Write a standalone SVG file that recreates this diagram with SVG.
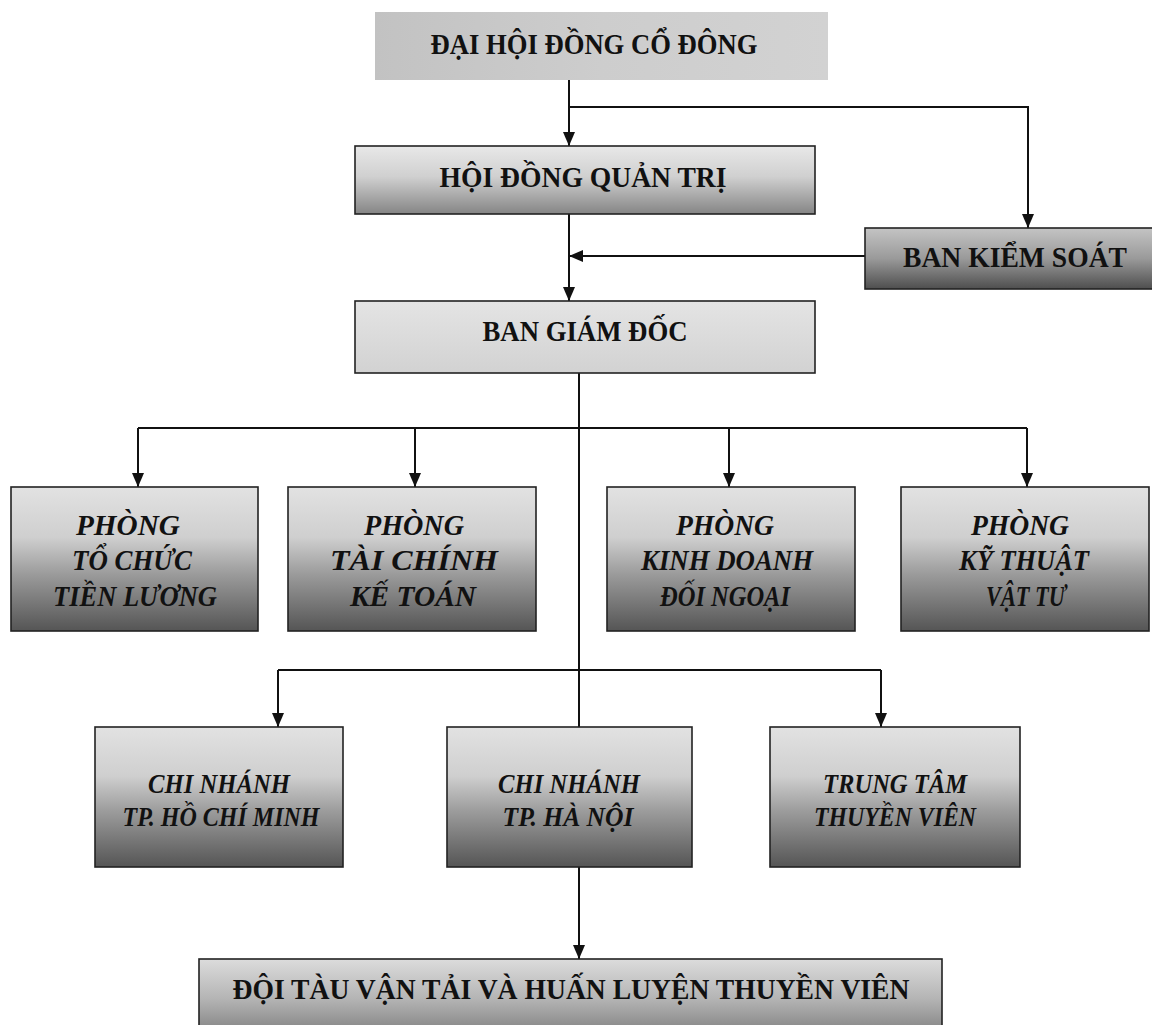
<svg xmlns="http://www.w3.org/2000/svg" width="1152" height="1025" viewBox="0 0 1152 1025">
<style>
.bx{stroke:#222;stroke-width:1.6}
.hd{font-family:"Liberation Serif","DejaVu Serif",serif;font-weight:bold;font-size:30px;fill:#111;text-anchor:middle}
.it{font-family:"Liberation Serif","DejaVu Serif",serif;font-weight:bold;font-style:italic;font-size:30px;fill:#111;text-anchor:middle}
.it2{font-family:"Liberation Serif","DejaVu Serif",serif;font-weight:bold;font-style:italic;font-size:28px;fill:#111;text-anchor:middle}
.ln{stroke:#111;stroke-width:2;fill:none}
</style>
<defs>
<linearGradient id="gTop" x1="0" y1="0" x2="1" y2="0">
<stop offset="0" stop-color="#c2c2c2"/><stop offset="0.5" stop-color="#cdcdcd"/><stop offset="1" stop-color="#d2d2d2"/>
</linearGradient>
<linearGradient id="gHd" x1="0" y1="0" x2="0" y2="1">
<stop offset="0" stop-color="#e8e8e8"/><stop offset="0.45" stop-color="#d0d0d0"/><stop offset="1" stop-color="#858585"/>
</linearGradient>
<linearGradient id="gBks" x1="0" y1="0" x2="0" y2="1">
<stop offset="0" stop-color="#c4c4c4"/><stop offset="0.5" stop-color="#9a9a9a"/><stop offset="1" stop-color="#4e4e4e"/>
</linearGradient>
<linearGradient id="gBgd" x1="0" y1="0" x2="0" y2="1">
<stop offset="0" stop-color="#e4e4e4"/><stop offset="1" stop-color="#d2d2d2"/>
</linearGradient>
<linearGradient id="gRow" x1="0" y1="0" x2="0" y2="1">
<stop offset="0" stop-color="#e2e2e2"/><stop offset="0.35" stop-color="#cfcfcf"/><stop offset="0.6" stop-color="#9c9c9c"/><stop offset="1" stop-color="#555555"/>
</linearGradient>
<linearGradient id="gBot" x1="0" y1="0" x2="0" y2="1">
<stop offset="0" stop-color="#dcdcdc"/><stop offset="0.5" stop-color="#b4b4b4"/><stop offset="1" stop-color="#7a7a7a"/>
</linearGradient>
<marker id="ar" markerUnits="userSpaceOnUse" markerWidth="14" markerHeight="12" refX="14" refY="6" orient="auto">
<path d="M0,0 L14,6 L0,12 z" fill="#111"/>
</marker>
</defs>
<rect width="1152" height="1025" fill="#ffffff"/>

<g id="connectors">
<line class="ln" x1="569" y1="80" x2="569" y2="146" marker-end="url(#ar)"/>
<polyline class="ln" points="569,107 1028,107 1028,228" marker-end="url(#ar)"/>
<line class="ln" x1="569" y1="214" x2="569" y2="301" marker-end="url(#ar)"/>
<line class="ln" x1="865" y1="256" x2="569" y2="256" marker-end="url(#ar)" stroke-width="3"/>
<line class="ln" x1="579" y1="373" x2="579" y2="959" marker-end="url(#ar)"/>
<line class="ln" x1="138" y1="428" x2="1027" y2="428"/>
<line class="ln" x1="138" y1="428" x2="138" y2="487" marker-end="url(#ar)"/>
<line class="ln" x1="415" y1="428" x2="415" y2="487" marker-end="url(#ar)"/>
<line class="ln" x1="729" y1="428" x2="729" y2="487" marker-end="url(#ar)"/>
<line class="ln" x1="1027" y1="428" x2="1027" y2="487" marker-end="url(#ar)"/>
<line class="ln" x1="278" y1="670" x2="881" y2="670"/>
<line class="ln" x1="278" y1="670" x2="278" y2="727" marker-end="url(#ar)"/>
<line class="ln" x1="881" y1="670" x2="881" y2="727" marker-end="url(#ar)"/>
</g>

<g id="dai-hoi-dong-co-dong">
<rect x="375" y="12" width="453" height="68" fill="url(#gTop)"/>
<text class="hd" x="594" y="54" textLength="327" lengthAdjust="spacingAndGlyphs">ĐẠI HỘI ĐỒNG CỔ ĐÔNG</text>
</g>
<g id="hoi-dong-quan-tri">
<rect class="bx" x="355" y="146" width="460" height="68" fill="url(#gHd)"/>
<text class="hd" x="583" y="187" textLength="287" lengthAdjust="spacingAndGlyphs">HỘI ĐỒNG QUẢN TRỊ</text>
</g>
<g id="ban-kiem-soat">
<rect class="bx" x="865" y="228" width="300" height="61" fill="url(#gBks)"/>
<text class="hd" x="1015" y="267" textLength="224" lengthAdjust="spacingAndGlyphs">BAN KIỂM SOÁT</text>
</g>
<g id="ban-giam-doc">
<rect class="bx" x="355" y="301" width="460" height="72" fill="url(#gBgd)"/>
<text class="hd" x="585" y="341" textLength="205" lengthAdjust="spacingAndGlyphs">BAN GIÁM ĐỐC</text>
</g>

<g id="phong-to-chuc-tien-luong">
<rect class="bx" x="11" y="487" width="247" height="144" fill="url(#gRow)"/>
<text class="it" x="128" y="535" textLength="104" lengthAdjust="spacingAndGlyphs">PHÒNG</text>
<text class="it" x="132" y="570" textLength="120" lengthAdjust="spacingAndGlyphs">TỔ CHỨC</text>
<text class="it" x="135" y="606" textLength="164" lengthAdjust="spacingAndGlyphs">TIỀN LƯƠNG</text>
</g>
<g id="phong-tai-chinh-ke-toan">
<rect class="bx" x="288" y="487" width="248" height="144" fill="url(#gRow)"/>
<text class="it" x="414" y="535" textLength="100" lengthAdjust="spacingAndGlyphs">PHÒNG</text>
<text class="it" x="414" y="570" textLength="168" lengthAdjust="spacingAndGlyphs">TÀI CHÍNH</text>
<text class="it" x="413" y="606" textLength="126" lengthAdjust="spacingAndGlyphs">KẾ TOÁN</text>
</g>
<g id="phong-kinh-doanh-doi-ngoai">
<rect class="bx" x="607" y="487" width="248" height="144" fill="url(#gRow)"/>
<text class="it" x="725" y="535" textLength="98" lengthAdjust="spacingAndGlyphs">PHÒNG</text>
<text class="it" x="727" y="570" textLength="172" lengthAdjust="spacingAndGlyphs">KINH DOANH</text>
<text class="it" x="725" y="606" textLength="130" lengthAdjust="spacingAndGlyphs">ĐỐI NGOẠI</text>
</g>
<g id="phong-ky-thuat-vat-tu">
<rect class="bx" x="901" y="487" width="248" height="144" fill="url(#gRow)"/>
<text class="it" x="1020" y="535" textLength="98" lengthAdjust="spacingAndGlyphs">PHÒNG</text>
<text class="it" x="1024" y="570" textLength="130" lengthAdjust="spacingAndGlyphs">KỸ THUẬT</text>
<text class="it" x="1026" y="606" textLength="80" lengthAdjust="spacingAndGlyphs">VẬT TƯ</text>
</g>

<g id="chi-nhanh-ho-chi-minh">
<rect class="bx" x="95" y="727" width="248" height="140" fill="url(#gRow)"/>
<text class="it2" x="219" y="793" textLength="142" lengthAdjust="spacingAndGlyphs">CHI NHÁNH</text>
<text class="it2" x="221" y="826" textLength="197" lengthAdjust="spacingAndGlyphs">TP. HỒ CHÍ MINH</text>
</g>
<g id="chi-nhanh-ha-noi">
<rect class="bx" x="447" y="727" width="245" height="140" fill="url(#gRow)"/>
<text class="it2" x="569" y="793" textLength="142" lengthAdjust="spacingAndGlyphs">CHI NHÁNH</text>
<text class="it2" x="568" y="826" textLength="131" lengthAdjust="spacingAndGlyphs">TP. HÀ NỘI</text>
</g>
<g id="trung-tam-thuyen-vien">
<rect class="bx" x="770" y="727" width="250" height="140" fill="url(#gRow)"/>
<text class="it2" x="895" y="793" textLength="144" lengthAdjust="spacingAndGlyphs">TRUNG TÂM</text>
<text class="it2" x="895" y="826" textLength="162" lengthAdjust="spacingAndGlyphs">THUYỀN VIÊN</text>
</g>

<g id="doi-tau-van-tai">
<rect class="bx" x="199" y="959" width="743" height="80" fill="url(#gBot)"/>
<text class="hd" x="571" y="999" textLength="677" lengthAdjust="spacingAndGlyphs">ĐỘI TÀU VẬN TẢI VÀ HUẤN LUYỆN THUYỀN VIÊN</text>
</g>
</svg>
